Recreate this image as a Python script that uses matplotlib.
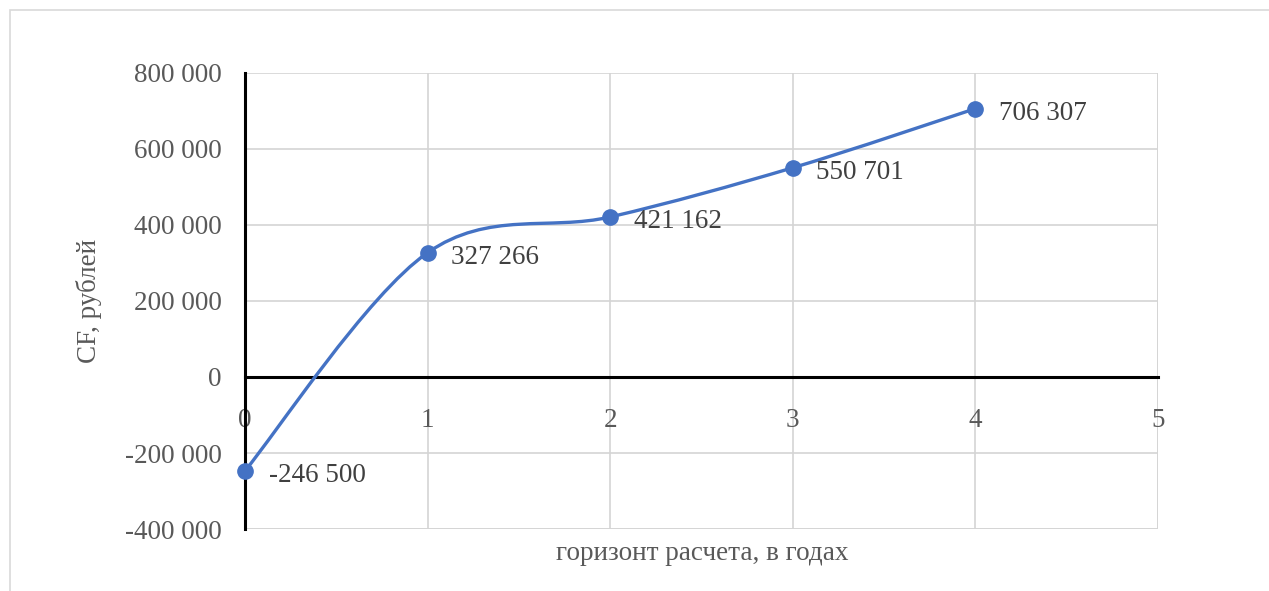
"""Cash flow over the calculation horizon, Excel-like smoothed scatter."""

import matplotlib
matplotlib.use("Agg")
import matplotlib.pyplot as plt
from matplotlib.path import Path
from matplotlib.patches import PathPatch, Rectangle

plt.rcParams["font.family"] = ["Liberation Serif", "DejaVu Serif"]

years = [0, 1, 2, 3, 4]
cash_flow = [-246500, 327266, 421162, 550701, 706307]
y_ticks = [-400000, -200000, 0, 200000, 400000, 600000, 800000]
x_ticks = [0, 1, 2, 3, 4, 5]

LINE_COLOR = "#4472C4"
GRID_COLOR = "#d4d4d4"
TICK_COLOR = "#595959"
LABEL_COLOR = "#404040"
FS = 19.5


def fmt(v):
    s = f"{abs(v):,}".replace(",", " ")
    return "-" + s if v < 0 else s


def smooth_path(xs, ys):
    # cubic bezier segments, control points from neighbouring points (Excel-style smoothing)
    pts = list(zip(xs, ys))
    n = len(pts)
    verts = [pts[0]]
    codes = [Path.MOVETO]
    for i in range(n - 1):
        p0 = pts[i - 1] if i > 0 else pts[i]
        p1 = pts[i]
        p2 = pts[i + 1]
        p3 = pts[i + 2] if i + 2 < n else pts[i + 1]
        c1 = (p1[0] + (p2[0] - p0[0]) / 6, p1[1] + (p2[1] - p0[1]) / 6)
        c2 = (p2[0] - (p3[0] - p1[0]) / 6, p2[1] - (p3[1] - p1[1]) / 6)
        verts += [c1, c2, p2]
        codes += [Path.CURVE4] * 3
    return Path(verts, codes)


fig = plt.figure(figsize=(12.69, 5.91), dpi=100)
fig.patch.set_facecolor("white")

# chart area border
fig.patches.append(Rectangle((0.0079, -0.2), 1.5, 0.983 + 0.2, transform=fig.transFigure,
                             facecolor="none", edgecolor="#d9d9d9", linewidth=1.2))

ax = fig.add_axes([0.1931, 0.1049, 0.7195, 0.7716])
ax.set_xlim(0, 5)
ax.set_ylim(-400000, 800000)

ax.grid(True, color=GRID_COLOR, linewidth=1.2)
ax.set_axisbelow(True)
for side in ("top", "right"):
    ax.spines[side].set_visible(False)
ax.spines["left"].set_color("black")
ax.spines["left"].set_linewidth(2.2)
ax.spines["bottom"].set_position(("data", 0))
ax.spines["bottom"].set_color("black")
ax.spines["bottom"].set_linewidth(2.2)
ax.spines["bottom"].set_zorder(1.5)
# bottom and right edges of the plot area
ax.axhline(-400000, color=GRID_COLOR, linewidth=1.2, zorder=0.5)
ax.axvline(5, color=GRID_COLOR, linewidth=1.2, zorder=0.5)

ax.set_xticks(x_ticks)
ax.set_xticklabels([str(t) for t in x_ticks])
ax.set_yticks(y_ticks)
ax.set_yticklabels([fmt(t) for t in y_ticks])
ax.tick_params(length=0, labelsize=FS, labelcolor=TICK_COLOR)
ax.tick_params(axis="x", pad=22)
ax.tick_params(axis="y", pad=17)

ax.add_patch(PathPatch(smooth_path(years, cash_flow), facecolor="none",
                       edgecolor=LINE_COLOR, linewidth=2.4, zorder=3, capstyle="round"))
ax.plot(years, cash_flow, linestyle="none", marker="o", markersize=11,
        color=LINE_COLOR, zorder=4, clip_on=False)

for x, y in zip(years, cash_flow):
    ax.annotate(fmt(y), (x, y), xytext=(17, -3.5), textcoords="offset points",
                ha="left", va="center", fontsize=FS, color=LABEL_COLOR, zorder=5)

fig.text(0.0705, 0.491, "CF, рублей", rotation=90, ha="center", va="center",
         fontsize=FS, color=TICK_COLOR)
fig.text(0.553, 0.064, "горизонт расчета, в годах", ha="center", va="center",
         fontsize=FS, color=TICK_COLOR)

fig.savefig("out.png", dpi=100, facecolor=fig.get_facecolor())
